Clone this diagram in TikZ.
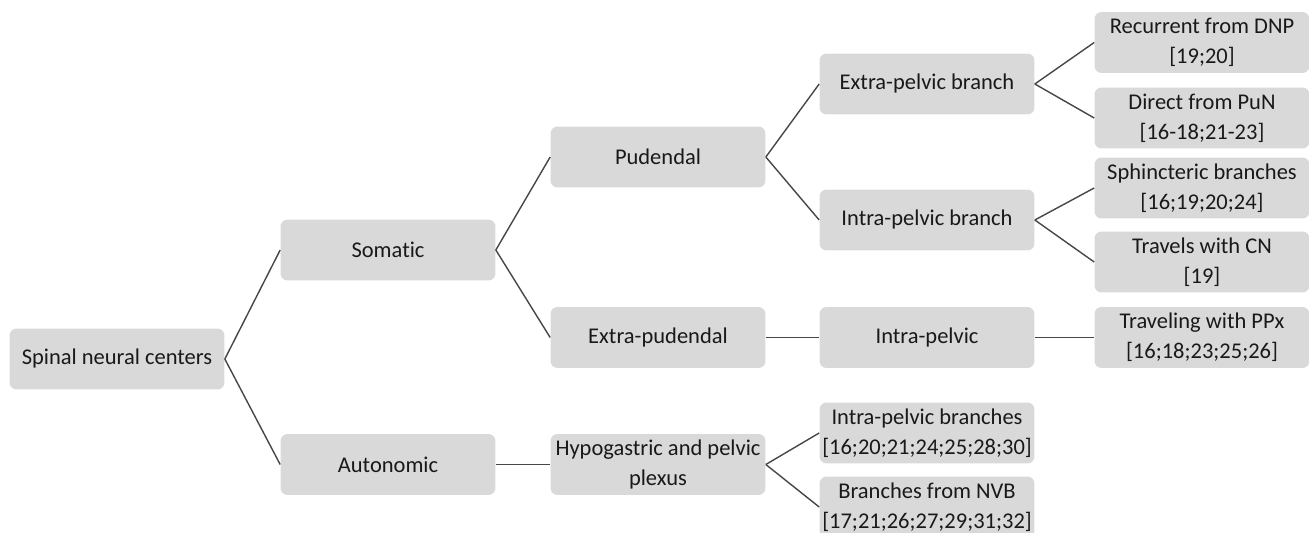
\documentclass[tikz,border=0pt]{standalone}
\usepackage{fontspec}
\setmainfont{Carlito}[Ligatures=NoCommon]
\usetikzlibrary{positioning}

\begin{document}
\begin{tikzpicture}[x=0.02cm,y=-0.02cm,
  box/.style={fill=black!15,rounded corners=4pt,minimum width=4.3cm,minimum height=1.22cm,
    align=center,inner sep=1pt,font=\fontsize{12.8}{17}\selectfont,text=black!90},
  link/.style={draw=black!72,line width=0.8pt}]
\clip (0,0) rectangle (1309,533);

\node (snc) at (117,359) [box] {Spinal neural centers};

\node (som) at (388,250) [box] {Somatic};
\node (aut) at (388,464.5) [box] {Autonomic};

\node (pud) at (658,157) [box] {Pudendal};
\node (expud) at (658,337.5) [box] {Extra-pudendal};
\node (hyp) at (658,464.5) [box] {Hypogastric and pelvic\\plexus};

\node (expb) at (927,84) [box] {Extra-pelvic branch};
\node (inpb) at (927,220) [box] {Intra-pelvic branch};
\node (inp) at (927,337.5) [box] {Intra-pelvic};
\node (inpbr) at (927,433) [box] {Intra-pelvic branches\\{[16;20;21;24;25;28;30]}};
\node (nvb) at (927,507) [box] {Branches from NVB\\{[17;21;26;27;29;31;32]}};

\node (rec) at (1202,42.5) [box] {Recurrent from DNP\\{[19;20]}};
\node (dir) at (1202,118) [box] {Direct from PuN\\{[16-18;21-23]}};
\node (sph) at (1202,188) [box] {Sphincteric branches\\{[16;19;20;24]}};
\node (trv) at (1202,262) [box] {Travels with CN\\{[19]}};
\node (ppx) at (1202,337.5) [box] {Traveling with PPx\\{[16;18;23;25;26]}};

\foreach \a/\b in {snc/som,snc/aut,som/pud,som/expud,aut/hyp,pud/expb,pud/inpb,expud/inp,
  hyp/inpbr,hyp/nvb,expb/rec,expb/dir,inpb/sph,inpb/trv,inp/ppx} {
\draw[link] (\a.east) -- (\b.west);
};
\end{tikzpicture}
\end{document}
